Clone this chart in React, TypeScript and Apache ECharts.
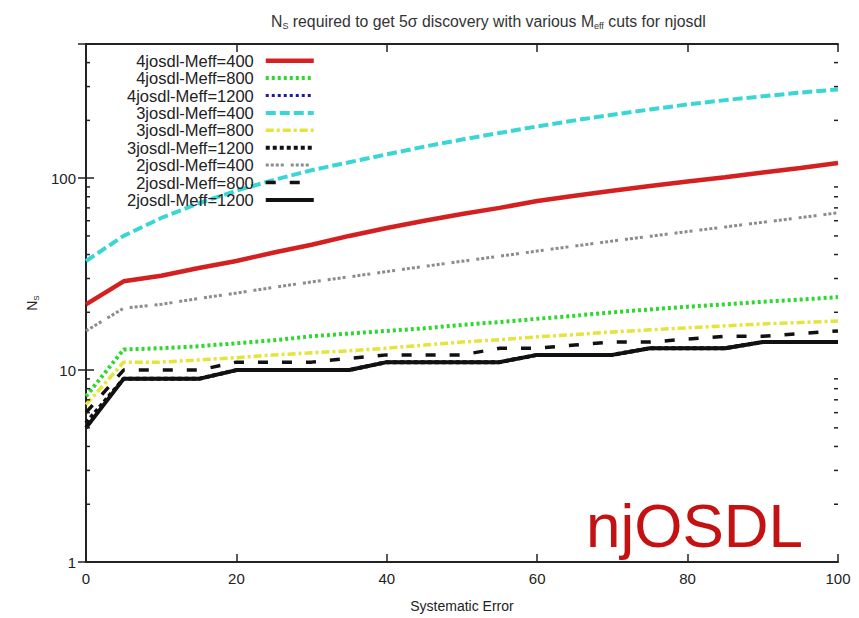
import React, { useEffect, useRef } from 'react';
import * as echarts from 'echarts';

const FONT = 'Liberation Sans, Arial, sans-serif';

const xValues = [0, 5, 10, 15, 20, 25, 30, 35, 40, 45, 50, 55, 60, 65, 70, 75, 80, 85, 90, 95, 100];

const n4j400 = [22, 29, 31, 34, 37, 41, 45, 50, 55, 60, 65, 70, 76, 81, 86, 91, 96, 101, 107, 113, 120];
const n4j800 = [7.3, 12.8, 13, 13.3, 13.8, 14.3, 15, 15.5, 16, 16.5, 17.2, 17.8, 18.5, 19.2, 20, 20.7, 21.4, 22, 22.7, 23.3, 24];
const n4j1200 = [5, 9, 9, 9, 10, 10, 10, 10, 11, 11, 11, 11, 12, 12, 12, 13, 13, 13, 14, 14, 14];
const n3j400 = [37, 50, 62, 74, 86, 98, 110, 121, 133, 146, 159, 172, 186, 200, 214, 228, 242, 255, 267, 279, 290];
const n3j800 = [6.6, 11, 11, 11.3, 11.6, 12, 12.3, 12.6, 13, 13.5, 14, 14.4, 14.9, 15.3, 15.8, 16.2, 16.6, 17, 17.4, 17.7, 18];
const n3j1200 = [5.3, 9, 9, 9, 10, 10, 10, 10, 11, 11, 11, 11, 12, 12, 12, 13, 13, 13, 14, 14, 14];
const n2j400 = [16, 21, 22, 23.6, 25.2, 27, 28.8, 30.6, 32.6, 34.7, 36.9, 39.2, 41.7, 44.3, 47, 49.8, 52.7, 55.7, 58.9, 62.3, 66];
const n2j800 = [6, 10, 10, 10, 11, 11, 11, 11.5, 12, 12, 12, 13, 13, 13.5, 14, 14, 14.5, 15, 15, 15.5, 16];
const n2j1200 = [5, 9, 9, 9, 10, 10, 10, 10, 11, 11, 11, 11, 12, 12, 12, 13, 13, 13, 14, 14, 14];

const seriesNames = [
  '4josdl-Meff=400',
  '4josdl-Meff=800',
  '4josdl-Meff=1200',
  '3josdl-Meff=400',
  '3josdl-Meff=800',
  '3josdl-Meff=1200',
  '2josdl-Meff=400',
  '2josdl-Meff=800',
  '2josdl-Meff=1200',
];
const seriesValues = [n4j400, n4j800, n4j1200, n3j400, n3j800, n3j1200, n2j400, n2j800, n2j1200];

const yTickLabels = [1, 10, 100];
const minorTickValues = [2, 3, 4, 5, 6, 7, 8, 9, 20, 30, 40, 50, 60, 70, 80, 90, 200, 300, 400];

const lineStyles: any[] = [
  { color: '#d42020', width: 4.5, type: 'solid' },
  { color: '#2ed82e', width: 4, type: [3, 3] },
  { color: '#1c1c9c', width: 3, type: [3, 3] },
  { color: '#3ad6d6', width: 4, type: [10, 4] },
  { color: '#e4e43c', width: 3.5, type: [8, 3, 3, 3] },
  { color: '#111111', width: 4, type: [4, 3] },
  { color: '#8c8c8c', width: 3, type: [3, 2, 3, 2, 3, 2, 3, 7] },
  { color: '#111111', width: 3.5, type: [10, 14] },
  { color: '#111111', width: 4, type: 'solid' },
];

const axisLineStyle = { color: '#222', width: 2 };
const tickStyle = { color: '#222', width: 1.5 };

export default function App() {
  const ref = useRef<HTMLDivElement>(null);

  useEffect(() => {
    if (!ref.current) return;
    const chart = echarts.init(ref.current, undefined, { renderer: 'svg' });

    const lineSeries = seriesNames.map((name, i) => ({
      name,
      type: 'line',
      symbol: 'none',
      data: xValues.map((x, j) => [x, seriesValues[i][j]]),
      lineStyle: lineStyles[i],
      itemStyle: { color: lineStyles[i].color },
      z: 3,
    }));

    const option: any = {
      animation: false,
      backgroundColor: '#ffffff',
      title: {
        text: '{n|N}{s|S}{n| required to get 5σ discovery with various M}{s|eff}{n| cuts for njosdl}',
        left: 266,
        top: 8,
        textStyle: {
          fontWeight: 'normal',
          rich: {
            n: { fontSize: 15.8, fontWeight: 'normal', fontFamily: FONT, color: '#333', lineHeight: 17 },
            s: { fontSize: 9, fontWeight: 'normal', fontFamily: FONT, color: '#333', padding: [8, 0, 0, 0] },
          },
        },
      },
      grid: { left: 86, right: 21, top: 44, bottom: 53, containLabel: false },
      legend: {
        data: seriesNames,
        orient: 'vertical',
        right: 538,
        top: 47,
        itemWidth: 48,
        itemHeight: 10,
        itemGap: 0,
        align: 'right',
        selectedMode: false,
        itemStyle: { opacity: 0 },
        lineStyle: { width: 'inherit' },
        textStyle: {
          fontSize: 16.5,
          color: '#222',
          fontFamily: FONT,
          lineHeight: 17.4,
          padding: [0, 7, 0, 0],
        },
      },
      xAxis: [
        {
          type: 'value',
          min: 0,
          max: 100,
          interval: 20,
          position: 'bottom',
          axisLine: { show: true, lineStyle: axisLineStyle },
          axisTick: { show: true, inside: true, length: 8, lineStyle: tickStyle },
          axisLabel: { fontSize: 15, color: '#222', margin: 9, fontFamily: FONT },
          splitLine: { show: false },
          name: 'Systematic Error',
          nameLocation: 'middle',
          nameGap: 37,
          nameTextStyle: { fontSize: 14, color: '#222', fontFamily: FONT },
        },
        {
          type: 'value',
          min: 0,
          max: 100,
          interval: 20,
          position: 'top',
          axisLine: { show: true, lineStyle: axisLineStyle },
          axisTick: { show: true, inside: true, length: 8, lineStyle: tickStyle },
          axisLabel: { show: false },
          splitLine: { show: false },
        },
      ],
      yAxis: [
        {
          type: 'log',
          logBase: 10,
          min: 1,
          max: 500,
          position: 'left',
          axisLine: { show: true, lineStyle: axisLineStyle },
          axisTick: { show: true, inside: true, length: 8, lineStyle: tickStyle },
          axisLabel: {
            fontSize: 15,
            color: '#222',
            margin: 10,
            fontFamily: FONT,
            formatter: (v: number) => {
              const r = Math.round(v);
              return yTickLabels.includes(r) && Math.abs(v - r) < 1e-6 ? String(r) : '';
            },
          },
          splitLine: { show: false },
          name: '{n|N}{s|S}',
          nameLocation: 'middle',
          nameGap: 44,
          nameRotate: 90,
          nameTextStyle: {
            rich: {
              n: { fontSize: 14, fontFamily: FONT, color: '#222', lineHeight: 16 },
              s: { fontSize: 8, fontFamily: FONT, color: '#222', padding: [8, 0, 0, 0] },
            },
          },
        },
        {
          type: 'log',
          logBase: 10,
          min: 1,
          max: 500,
          position: 'right',
          axisLine: { show: true, lineStyle: axisLineStyle },
          axisTick: { show: true, inside: true, length: 8, lineStyle: tickStyle },
          axisLabel: { show: false },
          splitLine: { show: false },
        },
      ],
      graphic: [
        {
          type: 'text',
          x: 803,
          y: 494,
          z: 100,
          style: {
            text: 'njOSDL',
            fontSize: 62,
            fontFamily: FONT,
            fill: '#c41212',
            align: 'right',
            verticalAlign: 'top',
          },
        },
      ],
      series: [
        ...lineSeries,
        {
          type: 'custom',
          name: 'minorTicks',
          coordinateSystem: 'cartesian2d',
          xAxisIndex: 0,
          yAxisIndex: 0,
          silent: true,
          z: 10,
          data: minorTickValues.map((v) => [0, v]),
          renderItem: (_params: any, api: any) => {
            const v = api.value(1);
            const l = api.coord([0, v]);
            const r = api.coord([100, v]);
            return {
              type: 'group',
              children: [
                { type: 'line', shape: { x1: l[0], y1: l[1], x2: l[0] + 4, y2: l[1] }, style: { stroke: '#222', lineWidth: 1.5 } },
                { type: 'line', shape: { x1: r[0] - 4, y1: r[1], x2: r[0], y2: r[1] }, style: { stroke: '#222', lineWidth: 1.5 } },
              ],
            };
          },
        },
      ],
    };

    chart.setOption(option);
    return () => chart.dispose();
  }, []);

  return (
    <div
      ref={ref}
      style={{ position: 'fixed', left: 0, top: 0, width: 859, height: 618, background: '#fff' }}
    />
  );
}
